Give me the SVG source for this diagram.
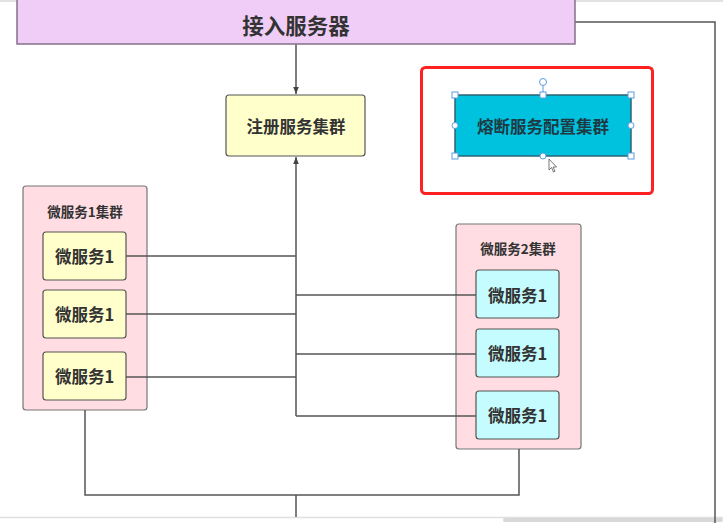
<svg xmlns="http://www.w3.org/2000/svg" width="723" height="532" viewBox="0 0 723 532">
<defs>
<style>
.t{font-family:"Noto Sans CJK SC","Noto Sans",sans-serif;font-weight:bold;fill:#333;text-anchor:middle;dominant-baseline:central}
.ln{fill:none;stroke:#555;stroke-width:1.5}
.y{fill:#ffffcc;stroke:#555;stroke-width:1.2}
.c{fill:#c4fcff;stroke:#555;stroke-width:1.2}
.p{fill:#ffdde3;stroke:#777;stroke-width:1.2}
.h{fill:#fff;stroke:#5b9be0;stroke-width:1}
</style>
<marker id="ar" viewBox="0 0 10 10" refX="10" refY="5" markerWidth="7" markerHeight="7" orient="auto-start-reverse" markerUnits="userSpaceOnUse">
<path d="M0,1 L10,5 L0,9 z" fill="#444"/>
</marker>
</defs>
<rect width="723" height="532" fill="#fff"/>
<rect x="0" y="0" width="723" height="2" fill="#e2e2e2"/>
<line x1="0" y1="517.5" x2="723" y2="517.5" stroke="#e0e0e0" stroke-width="1.5"/>
<rect x="503" y="518" width="220" height="4" rx="2" fill="#d8d8d8"/>

<g id="ms1-cluster">
<rect class="p" x="23" y="186" width="124" height="224" rx="3"/>
<text class="t" x="85" y="211" font-size="13.5">微服务1集群</text>
</g>
<g id="ms2-cluster">
<rect class="p" x="456" y="224" width="125" height="225" rx="3"/>
<text class="t" x="518" y="248" font-size="13.5">微服务2集群</text>
</g>

<g id="connectors">
<polyline class="ln" points="575,22 715,22 715,523"/>
<line class="ln" x1="296" y1="44" x2="296" y2="94" marker-end="url(#ar)"/>
<line class="ln" x1="296" y1="416" x2="296" y2="157" marker-end="url(#ar)"/>
<line class="ln" x1="126" y1="256" x2="296" y2="256"/>
<line class="ln" x1="126" y1="314" x2="296" y2="314"/>
<line class="ln" x1="126" y1="377" x2="296" y2="377"/>
<line class="ln" x1="296" y1="295" x2="476" y2="295"/>
<line class="ln" x1="296" y1="354" x2="476" y2="354"/>
<line class="ln" x1="296" y1="416" x2="476" y2="416"/>
<polyline class="ln" points="85,410 85,495 519,495 519,449"/>
<line class="ln" x1="296" y1="495" x2="296" y2="517"/>
</g>

<g id="access-server">
<rect x="17" y="-2" width="558" height="46" fill="#f0cdf7" stroke="#85708a" stroke-width="1.5"/>
<text class="t" x="296" y="24" font-size="21.5">接入服务器</text>
</g>

<g id="register-cluster">
<rect class="y" x="226" y="95" width="139" height="61" rx="3"/>
<text class="t" x="296" y="126" font-size="16.5">注册服务集群</text>
</g>

<g id="highlight">
<rect x="421.5" y="67.5" width="231" height="126" rx="4" fill="none" stroke="#ff2020" stroke-width="3"/>
</g>

<g id="breaker-config">
<rect x="455" y="95" width="176" height="61" fill="#00c1de" stroke="#2b6474" stroke-width="1.5"/>
<text class="t" x="543" y="126" font-size="16.5" style="fill:#1e3a44">熔断服务配置集群</text>
<line x1="543" y1="86" x2="543" y2="95" stroke="#5b9be0" stroke-width="1"/>
<circle class="h" cx="543" cy="82" r="3.5"/>
<rect class="h" x="452" y="92" width="6" height="6"/>
<rect class="h" x="540" y="92" width="6" height="6"/>
<rect class="h" x="628" y="92" width="6" height="6"/>
<circle class="h" cx="455" cy="125.5" r="3"/>
<circle class="h" cx="631" cy="125.5" r="3"/>
<rect class="h" x="452" y="153" width="6" height="6"/>
<circle class="h" cx="543" cy="156" r="3"/>
<rect class="h" x="628" y="153" width="6" height="6"/>
<path d="M549,159 L549,170 L551.5,167.5 L553.5,172 L555,171.3 L553,167 L556.5,167 Z" fill="#fff" stroke="#555" stroke-width="0.8"/>
</g>

<g id="ms1-a"><rect class="y" x="43" y="232" width="83" height="48" rx="3"/><text class="t" x="84.5" y="256" font-size="16.5">微服务1</text></g>
<g id="ms1-b"><rect class="y" x="43" y="290" width="83" height="48" rx="3"/><text class="t" x="84.5" y="314" font-size="16.5">微服务1</text></g>
<g id="ms1-c"><rect class="y" x="43" y="352" width="83" height="48" rx="3"/><text class="t" x="84.5" y="376" font-size="16.5">微服务1</text></g>

<g id="ms2-a"><rect class="c" x="476" y="270" width="83" height="48" rx="3"/><text class="t" x="517.5" y="295" font-size="16.5">微服务1</text></g>
<g id="ms2-b"><rect class="c" x="476" y="329" width="83" height="48" rx="3"/><text class="t" x="517.5" y="353" font-size="16.5">微服务1</text></g>
<g id="ms2-c"><rect class="c" x="476" y="391" width="83" height="48" rx="3"/><text class="t" x="517.5" y="415" font-size="16.5">微服务1</text></g>
</svg>
